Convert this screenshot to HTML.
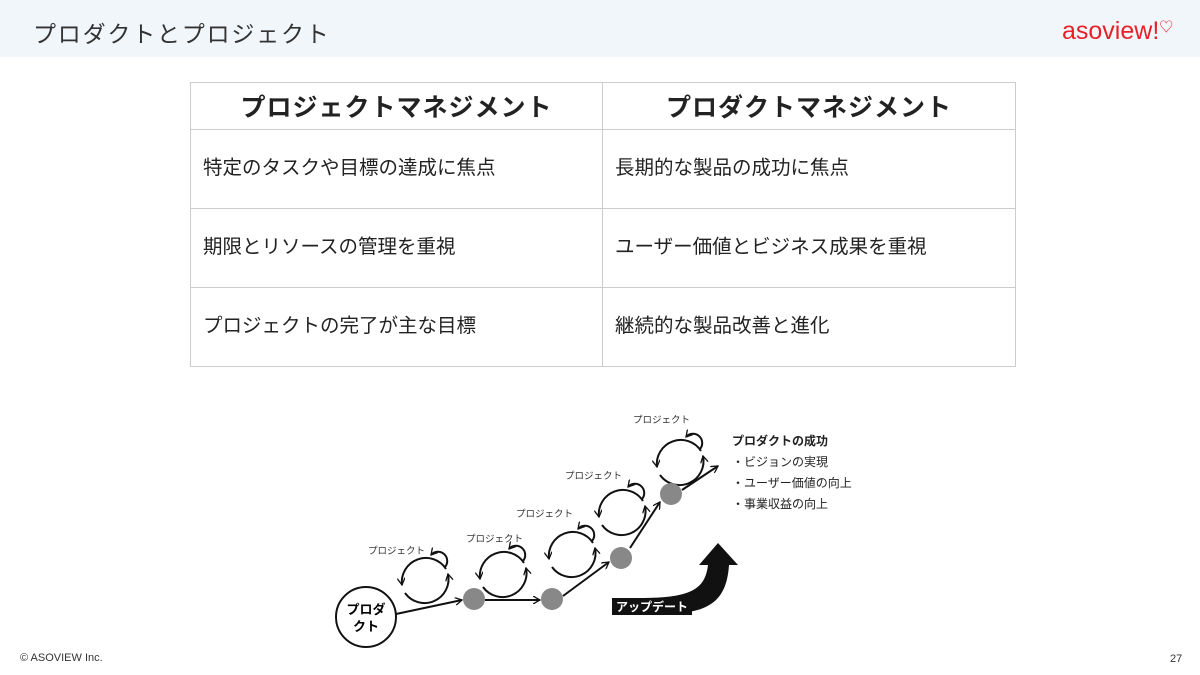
<!DOCTYPE html><html><head><meta charset="utf-8"><style>
body{margin:0;width:1200px;height:675px;background:#fff;position:relative;overflow:hidden;font-family:"Liberation Sans","Noto Sans CJK JP",sans-serif;color:#222}
.hdr{position:absolute;left:0;top:0;width:1200px;height:57px;background:#f1f6fa}
.t{position:absolute;left:33px;top:15px;font-size:23px;letter-spacing:1.8px;color:#333}
.logo{position:absolute;left:1062px;top:17px;font-size:25px;color:#e8202a}
table{position:absolute;left:190px;top:82px;width:826px;border-collapse:collapse}
td{border:1.5px solid #ccc;padding:0 0 7px 12px;font-size:19.5px;color:#222}
th{border:1.5px solid #ccc;height:44px;font-size:25px;letter-spacing:1px;font-weight:bold;color:#222}
tr.r td{height:71px}
.ft{position:absolute;left:20px;top:652px;font-size:11px;color:#333}
.pg{position:absolute;left:1170px;top:653px;font-size:11px;color:#333}
</style></head><body>
<div class="hdr"></div><div class="t">プロダクトとプロジェクト</div>
<div class="logo">asoview!<span style="font-size:14px;vertical-align:top">♡</span></div>
<table><tr><th style="width:409px">プロジェクトマネジメント</th><th>プロダクトマネジメント</th></tr>
<tr class="r"><td>特定のタスクや目標の達成に焦点</td><td>長期的な製品の成功に焦点</td></tr>
<tr class="r"><td>期限とリソースの管理を重視</td><td>ユーザー価値とビジネス成果を重視</td></tr>
<tr class="r"><td>プロジェクトの完了が主な目標</td><td>継続的な製品改善と進化</td></tr></table>
<svg width="1200" height="675" style="position:absolute;left:0;top:0" font-family="Liberation Sans,Noto Sans CJK JP,sans-serif">
<defs><marker id="a" markerWidth="8" markerHeight="8" refX="7" refY="4" orient="auto" markerUnits="userSpaceOnUse"><path d="M0,0L7,4L0,8" fill="none" stroke="#111" stroke-width="1.3"/></marker>
<g id="L" stroke="#111" stroke-width="2" fill="none"><path d="M21,-12 A24,24 0 0 0 -23,4" marker-end="url(#a)"/><path d="M-20,12 A24,24 0 0 0 23,-7" marker-end="url(#a)"/><path d="M20,-14 A9,9 0 1 0 6,-26" marker-end="url(#a)"/></g></defs>
<g stroke="#111" stroke-width="2" fill="none">
<line x1="396" y1="614" x2="462" y2="600" marker-end="url(#a)"/>
<line x1="485" y1="600" x2="540" y2="600" marker-end="url(#a)"/>
<line x1="563" y1="596" x2="609" y2="562" marker-end="url(#a)"/>
<line x1="630" y1="548" x2="660" y2="502" marker-end="url(#a)"/>
<line x1="682" y1="490" x2="718" y2="466" marker-end="url(#a)"/>
</g>
<use href="#L" transform="translate(425,581)"/>
<use href="#L" transform="translate(503,575)"/>
<use href="#L" transform="translate(572,555)"/>
<use href="#L" transform="translate(622,513)"/>
<use href="#L" transform="translate(680,463)"/>
<circle cx="366" cy="617" r="30" fill="#fff" stroke="#111" stroke-width="2"/>
<text x="366" y="614" font-size="13" font-weight="bold" text-anchor="middle">プロダ</text>
<text x="366" y="631" font-size="13" font-weight="bold" text-anchor="middle">クト</text>
<g fill="#888"><circle cx="474" cy="599" r="11"/><circle cx="552" cy="599" r="11"/><circle cx="621" cy="558" r="11"/><circle cx="671" cy="494" r="11"/></g>
<g font-size="9.5" fill="#333"><text x="368" y="554">プロジェクト</text><text x="466" y="542">プロジェクト</text><text x="516" y="517">プロジェクト</text><text x="565" y="479">プロジェクト</text><text x="633" y="423">プロジェクト</text></g>
<path d="M640,598 C690,598 705,590 708,565 L699,565 L718,543 L738,565 L729,565 C726,610 700,615 640,615Z" fill="#111"/>
<rect x="612" y="598" width="80" height="17" fill="#111"/>
<text x="616" y="611" font-size="12" font-weight="bold" fill="#fff">アップデート</text>
<text x="732" y="445" font-size="12" font-weight="bold" fill="#222">プロダクトの成功</text>
<g font-size="12" fill="#222"><text x="732" y="466">・ビジョンの実現</text><text x="732" y="487">・ユーザー価値の向上</text><text x="732" y="508">・事業収益の向上</text></g>
</svg>
<div class="ft">© ASOVIEW Inc.</div><div class="pg">27</div>
</body></html>
